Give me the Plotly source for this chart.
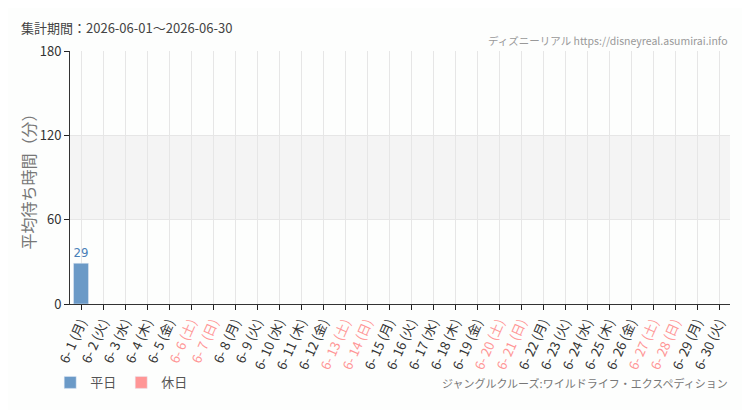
import plotly.graph_objects as go

# data
days = [f"6-{d}" for d in range(1, 31)]
weekdays = ["月", "火", "水", "木", "金", "土", "日"] * 5
weekdays = weekdays[:30]
holidays = ["6-6", "6-7", "6-13", "6-14", "6-20", "6-21", "6-27", "6-28"]
weekday_wait = [29] + [None] * 29
holiday_wait = [None] * 30

blue = "#6b9ac7"
pink = "#ff9696"

ticktext = []
for d, w in zip(days, weekdays):
    label = d.replace("-", "- ") + f" ({w})"
    if d in holidays:
        label = f"<span style='color:{pink}'>{label}</span>"
    ticktext.append(label)

fig = go.Figure()
fig.add_trace(go.Bar(
    x=days, y=weekday_wait, name="平日", marker_color=blue, width=0.68,
    text=[str(v) if v else "" for v in weekday_wait], textposition="outside",
    textfont=dict(color="#4a7fb8", size=14, family="DejaVu Sans Condensed, Noto Sans CJK JP"),
    cliponaxis=False,
))
fig.add_trace(go.Bar(
    x=days, y=holiday_wait, name="休日", marker_color=pink, width=0.68,
))

# 60-120 band
fig.add_shape(type="rect", xref="paper", yref="y", x0=0, x1=1, y0=60, y1=120,
              fillcolor="#f4f4f4", line_width=0, layer="below")

fig.add_annotation(text="集計期間：2026-06-01〜2026-06-30", xref="paper", yref="paper",
                   x=-0.077, y=1.094, xanchor="left", yanchor="middle", showarrow=False,
                   font=dict(size=13, color="#444"))
fig.add_annotation(text="ディズニーリアル https://disneyreal.asumirai.info", xref="paper", yref="paper",
                   x=1, y=1.04, xanchor="right", yanchor="middle", showarrow=False,
                   font=dict(size=10.5, color="#999"))
fig.add_annotation(text="ジャングルクルーズ:ワイルドライフ・エクスペディション", xref="paper", yref="paper",
                   x=1, y=-0.314, xanchor="right", yanchor="middle", showarrow=False,
                   font=dict(size=11, color="#777"))

fig.update_layout(
    width=742, height=402,
    margin=dict(l=62, r=20, t=43, b=104),
    paper_bgcolor="#fdfefd", plot_bgcolor="#fdfefd",
    font=dict(family="Noto Sans CJK JP", color="#333"),
    barmode="overlay", bargap=0.3,
    showlegend=True,
    legend=dict(orientation="h", x=-0.03, y=-0.31, xanchor="left", yanchor="middle",
                font=dict(size=13, color="#555"), bgcolor="rgba(0,0,0,0)"),
)
fig.update_xaxes(
    tickmode="array", tickvals=days, ticktext=ticktext, tickangle=-66,
    ticks="outside", ticklen=5, tickcolor="#222", showline=True, linecolor="#333",
    showgrid=True, gridcolor="#e6e6e6", tickfont=dict(size=13, color="#333"),
    automargin=False,
)
fig.update_yaxes(
    range=[0, 180], tickvals=[0, 60, 120, 180], ticks="outside", ticklen=5, tickcolor="#222",
    showline=True, linecolor="#333", showgrid=True, gridcolor="#e6e6e6", zeroline=False,
    tickfont=dict(size=13, color="#333"), automargin=False,
    title=dict(text="平均待ち時間（分）", font=dict(size=16, color="#777"), standoff=0),
)

fig.write_html("out.html")
